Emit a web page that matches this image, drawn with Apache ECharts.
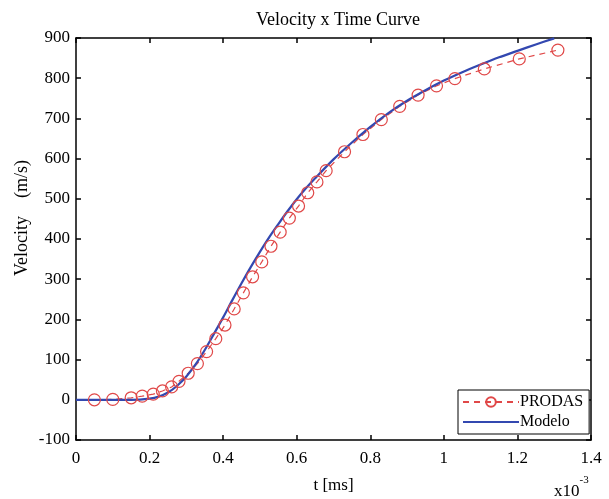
<!DOCTYPE html>
<html>
<head>
<meta charset="utf-8">
<script src="https://cdn.jsdelivr.net/npm/echarts@6/dist/echarts.min.js"></script>
<style>html,body{margin:0;padding:0;background:#fff}#c{width:609px;height:499px}</style>
</head>
<body>
<div id="c"></div>
<script>
// PRODAS points (t axis as displayed, velocity m/s)
var prodasT = [0.05,0.10,0.15,0.18,0.21,0.235,0.26,0.28,0.305,0.33,0.355,0.38,0.405,0.43,0.455,0.48,0.505,0.53,0.555,0.58,0.605,0.63,0.655,0.68,0.73,0.78,0.83,0.88,0.93,0.98,1.03,1.11,1.205,1.31];
var prodasV = [0,1,5,9,14,22,32,46,66,90,120,152,186,226,266,306,343,382,417,452,482,515,542,570,617,660,697,730,758,781,799,823,848,870];
// Modelo curve
var modeloT = [0,0.05,0.10,0.15,0.20,0.225,0.25,0.275,0.30,0.325,0.35,0.375,0.40,0.425,0.45,0.475,0.50,0.525,0.55,0.575,0.60,0.625,0.65,0.70,0.75,0.80,0.85,0.90,0.95,1.00,1.05,1.10,1.15,1.20,1.25,1.30];
var modeloV = [0,0,0,0,3,8,18,35,58,88,124,164,205,248,290,330,368,404,437,469,499,526,551,598,640,679,714,744,770,794,815,834,852,868,884,899];
var xTicks = [0,0.2,0.4,0.6,0.8,1,1.2,1.4];
var yTicks = [-100,0,100,200,300,400,500,600,700,800,900];

var FONT = 'Liberation Serif';
function zip(a,b){return a.map(function(v,i){return [v,b[i]];});}
var chart = echarts.init(document.getElementById('c'));
var axisCommon = {
  axisLine:{show:true,onZero:false,lineStyle:{color:'#000',width:1.5}},
  axisTick:{show:true,inside:true,length:5,lineStyle:{color:'#000',width:1.5}},
  splitLine:{show:false}
};
chart.setOption({
  animation:false,
  backgroundColor:'#fff',
  title:{text:'Velocity x Time Curve',left:333,top:6,textAlign:'center',
    textStyle:{fontFamily:FONT,fontSize:18,fontWeight:'normal',color:'#000'}},
  grid:{left:76,top:38,width:515,height:408},
  xAxis:[
    Object.assign({type:'value',min:xTicks[0],max:xTicks[xTicks.length-1],interval:0.2,position:'bottom',
      name:'t [ms]',nameLocation:'middle',nameGap:37,
      nameTextStyle:{fontFamily:FONT,fontSize:17,color:'#000'},
      axisLabel:{fontFamily:FONT,fontSize:17,color:'#000',margin:10,
        formatter:function(v){return String(Math.round(v*10)/10);}}},axisCommon),
    Object.assign({type:'value',min:xTicks[0],max:xTicks[xTicks.length-1],interval:0.2,position:'top',
      axisLabel:{show:false}},axisCommon)
  ],
  yAxis:[
    Object.assign({type:'value',min:yTicks[0],max:yTicks[yTicks.length-1],interval:100,position:'left',
      axisLabel:{fontFamily:FONT,fontSize:17,color:'#000',margin:6}},axisCommon),
    Object.assign({type:'value',min:yTicks[0],max:yTicks[yTicks.length-1],interval:100,position:'right',
      axisLabel:{show:false}},axisCommon)
  ],
  legend:{
    orient:'vertical',left:458,top:390,
    backgroundColor:'#fff',borderColor:'#000',borderWidth:1,borderRadius:0,
    padding:[4,6,4,4],itemGap:4,itemWidth:56,itemHeight:12,
    textStyle:{fontFamily:FONT,fontSize:16,color:'#000',padding:[0,0,0,-4]},
    data:['PRODAS',{name:'Modelo',itemStyle:{opacity:0}}]
  },
  graphic:[
    {type:'text',left:554,top:475,style:{
      text:'{b|x10}{s|-3}',rich:{b:{fontFamily:FONT,fontSize:17,fill:'#000',padding:[8,0,0,0]},s:{fontFamily:FONT,fontSize:11,fill:'#000',verticalAlign:'top'}}}},
    {type:'text',x:22,y:218,rotation:Math.PI/2,style:{
      text:'Velocity    (m/s)',fontFamily:FONT,fontSize:18,fill:'#000',align:'center',verticalAlign:'middle'}}
  ],
  series:[
    {name:'PRODAS',type:'line',data:zip(prodasT,prodasV),
      symbol:'circle',symbolSize:12,
      itemStyle:{color:'rgba(0,0,0,0)',borderColor:'#e04848',borderWidth:1.2},
      lineStyle:{color:'#e04848',width:1.2,type:[6,5]}},
    {name:'Modelo',type:'line',data:zip(modeloT,modeloV),smooth:0.3,
      symbol:'none',showSymbol:false,
      itemStyle:{color:'#3348b0'},
      lineStyle:{color:'#3348b0',width:2.2}}
  ]
});
</script>
</body>
</html>
